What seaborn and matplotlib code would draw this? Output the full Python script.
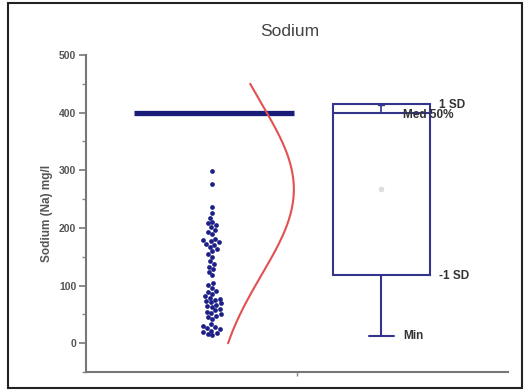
import numpy as np
import pandas as pd
import matplotlib
matplotlib.use("Agg")
import matplotlib.pyplot as plt
import seaborn as sns
from matplotlib.patches import Rectangle

# ---- data ----
sodium = [14, 16, 18, 20, 22, 24, 26, 28, 30, 33,
          42, 45, 48, 50, 52, 55, 57, 60, 63, 65,
          67, 69, 71, 73, 75, 77, 79, 82,
          86, 89, 91, 96, 101, 105,
          118, 124, 128, 133, 137, 142,
          150, 155, 160, 163, 167,
          171, 173, 175, 177, 179, 181,
          190, 193, 197, 202, 205, 208, 211,
          218, 226, 237, 277, 298]
mean_val = 267
sd_val = 148.5
plus_sd = 415
minus_sd = 118
median_val = 400
median_err_top = 413
min_val = 13
ref_line = 400
stat_labels = ["1 SD", "Med 50%", "-1 SD", "Min"]
y_ticks = [0, 100, 200, 300, 400, 500]

# positions on the x axis (layout)
x_pts, x_box = 0.6, 1.4
curve_base, curve_width = 0.597, 0.389

sns.set_theme(style="white")
plt.rcParams['font.family'] = ['Liberation Sans', 'DejaVu Sans']

fig = plt.figure(figsize=(5.3, 3.9), dpi=100)
ax = fig.add_axes([0.162, 0.046, 0.796, 0.813])

df = pd.DataFrame({"x": np.full(len(sodium), x_pts), "y": sodium})
sns.swarmplot(data=df, x="x", y="y", native_scale=True, orient="v",
              color="#1b1f86", size=3.4, ax=ax, linewidth=0)

# reference line at 400
ax.plot([0.227, 0.986], [ref_line, ref_line], color="#1a1d78", lw=3.8,
        solid_capstyle="butt", zorder=3)

# normal curve
yy = np.linspace(0, 450, 200)
xx = curve_base + curve_width * np.exp(-(yy - mean_val) ** 2 / (2 * sd_val ** 2))
ax.plot(xx, yy, color="#e2504f", lw=1.5, zorder=4)

# box (mean +/- SD)
ax.bar([x_box], [plus_sd - minus_sd], bottom=[minus_sd], width=0.46,
       facecolor="none", edgecolor="#34348c", lw=1.5, zorder=3)
ax.plot([x_box - 0.23, x_box + 0.23], [median_val, median_val], color="#34348c", lw=1.5)
ax.plot([x_box, x_box], [median_val, median_err_top], color="#34348c", lw=1.2)
ax.plot([x_box - 0.015, x_box + 0.015], [median_err_top, median_err_top], color="#34348c", lw=1.0)
ax.plot([x_box, x_box], [min_val, minus_sd], color="#34348c", lw=1.5)
ax.plot([x_box - 0.06, x_box + 0.06], [min_val, min_val], color="#34348c", lw=1.5)
ax.plot([x_box], [mean_val], marker="o", ms=3, color="#dddddd", zorder=5)

tkw = dict(fontsize=8.5, fontweight="bold", color="#333333", va="center", ha="left")
ax.text(1.675, 414, stat_labels[0], **tkw)
ax.text(1.505, 396, stat_labels[1], **tkw)
ax.text(1.675, 116, stat_labels[2], **tkw)
ax.text(1.505, 12, stat_labels[3], **tkw)

ax.set_xlim(0, 2)
ax.set_ylim(-50, 500)
ax.set_yticks(y_ticks)
ax.set_yticks(np.arange(-50, 500, 50), minor=True)
ax.set_xticks([1])
ax.set_xticklabels([""])
ax.set_xlabel("")
ax.set_ylabel("Sodium (Na) mg/l", fontsize=8.5, fontweight="bold", color="#555555", labelpad=4)
ax.tick_params(axis="y", which="major", direction="out", length=5, width=1.2,
               color="#777777", labelsize=7.5, labelcolor="#555555", left=True, pad=2)
ax.tick_params(axis="y", which="minor", direction="out", length=3, width=1,
               color="#888888", left=True)
ax.tick_params(axis="x", direction="out", length=3, width=1, color="#888888", bottom=True)
for lab in ax.get_yticklabels():
    lab.set_fontweight("bold")
for s in ["top", "right"]:
    ax.spines[s].set_visible(False)
for s in ["left", "bottom"]:
    ax.spines[s].set_color("#777777")
    ax.spines[s].set_linewidth(1.5)
ax.spines["left"].set_bounds(-50, 500)
ax.patch.set_alpha(0)

fig.text(0.547, 0.918, "Sodium", fontsize=12.5, color="#444444", ha="center", va="center")
fig.patches.append(Rectangle((8 / 530, 2 / 390), 514 / 530, 385 / 390, transform=fig.transFigure,
                             fill=False, edgecolor="#222222", lw=1.5))

fig.savefig("out.png", dpi=100)
